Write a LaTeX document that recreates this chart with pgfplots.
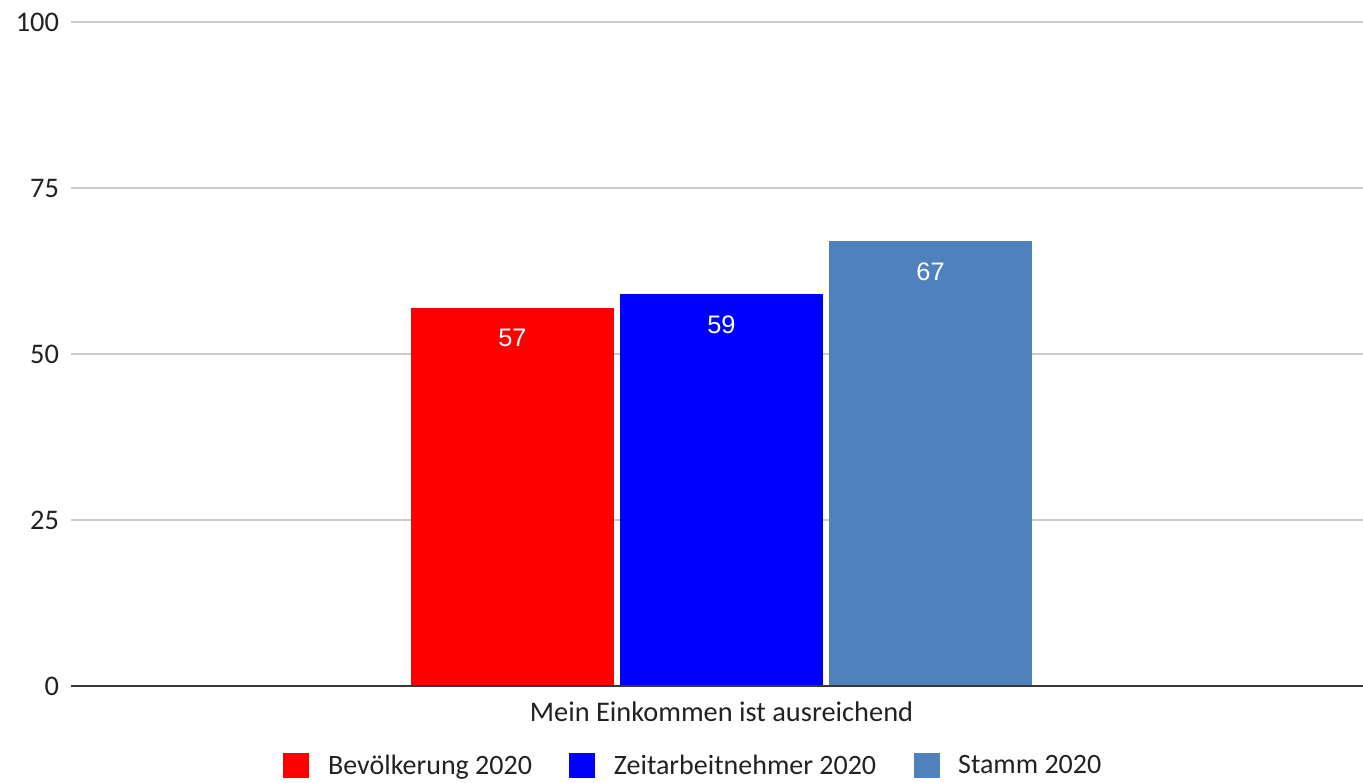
\documentclass[border=0pt]{standalone}
\usepackage{fontspec}
\setmainfont{Carlito}
\newfontfamily\labfont{Liberation Sans}
\usepackage{pgfplots}
\pgfplotsset{compat=1.18}
\definecolor{steel}{HTML}{4F81BD}
\definecolor{txt}{HTML}{222222}
\definecolor{gridc}{HTML}{CCCCCC}
\pgfplotsset{sqleg/.style={legend image code/.code={\fill[##1,draw=none] (0pt,-9.5pt) rectangle (19.5pt,9.5pt);}}}
\begin{document}
\begin{tikzpicture}
\begin{axis}[name=ax, width=969pt, height=498pt, scale only axis,
  xmin=-3.112, xmax=3.069, ymin=0, ymax=100,
  ytick={0,25,50,75,100}, xtick={0}, xticklabels={Mein Einkommen ist ausreichend},
  axis line style={draw=none}, major tick length=0pt,
  ymajorgrids, grid style={draw=gridc, line width=1.1pt},
  /pgf/number format/assume math mode=true,
  tick label style={font=\fontsize{21.3}{24}\selectfont, text=txt},
  yticklabel style={xshift=-5.5pt},
  xticklabel style={yshift=-8pt},
  legend style={at={(0.482,-0.12)}, anchor=center, draw=none, fill=none,
    font=\fontsize{21}{24}\selectfont, text=txt,
    /tikz/every odd column/.append style={column sep=12pt},
    /tikz/every even column/.append style={column sep=26pt}},
  legend columns=3,
  nodes near coords,
  nodes near coords style={font=\labfont\fontsize{19}{21}\selectfont, text=white, anchor=north, inner sep=0pt, yshift=-16pt},
]
\addplot[ybar, bar width=0.971, bar shift=0pt, fill=red, draw=none, sqleg] coordinates {(-1,57)};
\addlegendentry{Bevölkerung 2020}
\addplot[ybar, bar width=0.971, bar shift=0pt, fill=blue, draw=none, sqleg] coordinates {(0,59)};
\addlegendentry{Zeitarbeitnehmer 2020}
\addplot[ybar, bar width=0.971, bar shift=0pt, fill=steel, draw=none, sqleg] coordinates {(1,67)};
\addlegendentry{Stamm 2020}
\draw[draw=txt!90, line width=1.5pt] (rel axis cs:0,0) -- (rel axis cs:1,0);
\end{axis}
\pgfresetboundingbox
\path[use as bounding box] ([shift={(-53.25pt,-72pt)}]ax.south west) rectangle ([shift={(0pt,16.5pt)}]ax.north east);
\end{tikzpicture}
\end{document}
